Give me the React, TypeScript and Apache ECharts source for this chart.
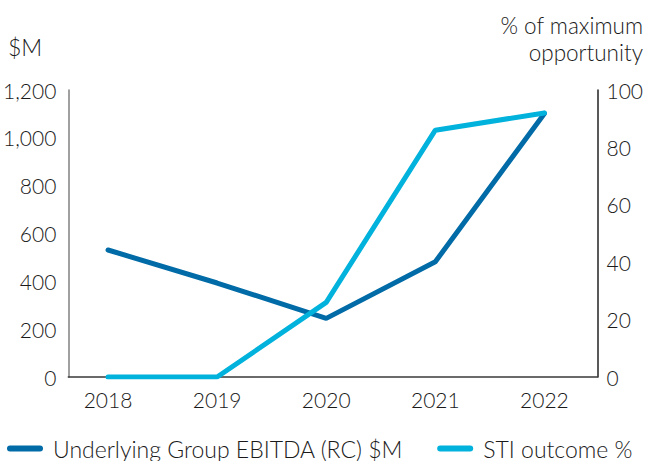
import React, { useEffect, useRef } from "react";
import * as echarts from "echarts";

const years = [2018, 2019, 2020, 2021, 2022];
const ebitda = [531, 393, 245, 482, 1102];
const stiOutcome = [0, 0, 26, 86, 92];
const leftTicks = { min: 0, max: 1200, interval: 200 };
const rightTicks = { min: 0, max: 100, interval: 20 };
const seriesNames = ["Underlying Group EBITDA (RC) $M", "STI outcome %"];
const leftAxisName = "$M";
const rightAxisNameLines = ["% of maximum", "opportunity"];

const FONT = "Lato, 'Open Sans', sans-serif";
const FW = 300;
const FS = 21;
const FS_TEXT = 23;
const FS_NAME = 22.5;
const DARK = "#006BA6";
const LIGHT = "#00B2DC";
const TXT = "#1a1a1a";

export default function App() {
  const ref = useRef<HTMLDivElement>(null);
  useEffect(() => {
    if (!ref.current) return;
    const chart = echarts.init(ref.current, undefined, { renderer: "svg" });
    const capsule = "path://M3,0 L33,0 A3,3 0 0 1 33,6 L3,6 A3,3 0 0 1 3,0 Z";
    chart.setOption({
      animation: false,
      textStyle: { fontFamily: FONT, fontWeight: FW },
      grid: { left: 67, right: 47, top: 90, bottom: 84, containLabel: false },
      graphic: [
        {
          type: "text",
          x: 8,
          y: 47,
          style: {
            text: leftAxisName,
            font: `${FW} ${FS_TEXT}px ${FONT}`,
            fill: TXT,
            verticalAlign: "middle",
          },
        },
        ...rightAxisNameLines.map((line, i) => ({
          type: "text",
          x: 643,
          y: 25.5 + i * 27,
          style: {
            text: line,
            font: `${FW} ${FS_NAME}px ${FONT}`,
            fill: TXT,
            align: "right",
            verticalAlign: "middle",
          },
        })),
      ],
      legend: {
        left: 7,
        top: 437,
        padding: 0,
        itemGap: 34,
        itemWidth: 36,
        itemHeight: 6,
        icon: capsule,
        textStyle: {
          fontFamily: FONT,
          fontWeight: FW,
          fontSize: FS_TEXT,
          color: TXT,
          padding: [0, 0, 0, 5],
        },
        data: seriesNames,
      },
      xAxis: {
        type: "value",
        min: 2017.636,
        max: 2022.486,
        splitNumber: 5,
        axisLine: { show: true, lineStyle: { color: "#3a3a3a", width: 1.5 } },
        axisTick: { show: false },
        splitLine: { show: false },
        axisLabel: {
          fontSize: FS,
          fontWeight: FW,
          color: TXT,
          margin: 12,
          showMinLabel: false,
          showMaxLabel: false,
          formatter: (v: number) =>
            Math.abs(v - Math.round(v)) < 1e-6 ? String(Math.round(v)) : "",
        },
      },
      yAxis: [
        {
          type: "value",
          position: "left",
          ...leftTicks,
          axisLine: { show: true, lineStyle: { color: "#808080", width: 1.5 } },
          axisTick: { show: false },
          splitLine: { show: false },
          axisLabel: {
            fontSize: FS,
            fontWeight: FW,
            color: TXT,
            margin: 12,
            formatter: (v: number) => v.toLocaleString("en-US"),
          },
        },
        {
          type: "value",
          position: "right",
          ...rightTicks,
          axisLine: { show: true, lineStyle: { color: "#222", width: 1.5 } },
          axisTick: { show: false },
          splitLine: { show: false },
          axisLabel: { fontSize: FS, fontWeight: FW, color: TXT, margin: 9 },
        },
      ],
      series: [
        {
          name: seriesNames[0],
          type: "line",
          yAxisIndex: 0,
          data: years.map((y, i) => [y, ebitda[i]]),
          showSymbol: false,
          symbol: "none",
          color: DARK,
          lineStyle: { color: DARK, width: 5, cap: "round" },
          z: 2,
        },
        {
          name: seriesNames[1],
          type: "line",
          yAxisIndex: 1,
          data: years.map((y, i) => [y, stiOutcome[i]]),
          showSymbol: false,
          symbol: "none",
          color: LIGHT,
          lineStyle: { color: LIGHT, width: 5, cap: "round" },
          z: 3,
        },
      ],
    });
    return () => chart.dispose();
  }, []);
  return (
    <div
      ref={ref}
      style={{ position: "absolute", left: 0, top: 0, width: 646, height: 461 }}
    />
  );
}
